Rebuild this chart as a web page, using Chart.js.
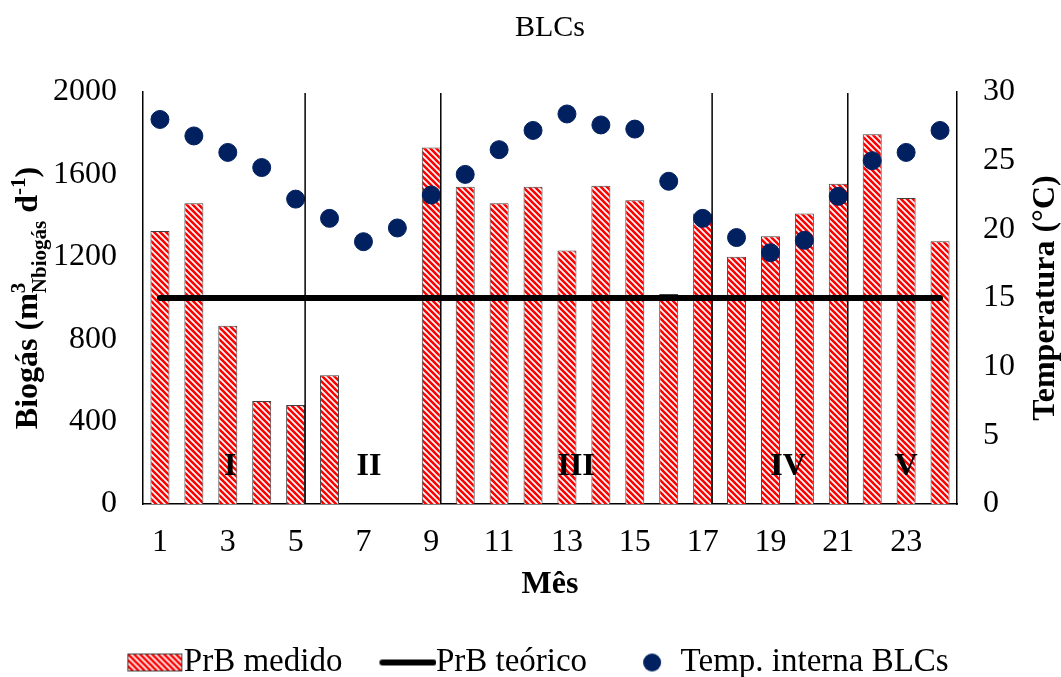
<!DOCTYPE html>
<html>
<head>
<meta charset="utf-8">
<script src="https://cdn.jsdelivr.net/npm/chart.js@4.4.1/dist/chart.umd.min.js"></script>
<style>
  body { margin: 0; background: #fff; }
  canvas { display: block; }
</style>
</head>
<body>
<canvas id="c" width="1061" height="677"></canvas>
<script>
const months = ["1", "2", "3", "4", "5", "6", "7", "8", "9", "10", "11", "12",
  "13", "14", "15", "16", "17", "18", "19", "20", "21", "22", "23", "24"];
const prbMedido = [1325, 1460, 865, 500, 480, 625, null, null, 1730, 1540, 1460, 1540,
  1230, 1545, 1475, 1020, 1410, 1200, 1300, 1410, 1555, 1795, 1485, 1275];
const prbTeorico = [1000, 1000, 1000, 1000, 1000, 1000, 1000, 1000, 1000, 1000, 1000, 1000,
  1000, 1000, 1000, 1000, 1000, 1000, 1000, 1000, 1000, 1000, 1000, 1000];
const tempInterna = [28.0, 26.8, 25.6, 24.5, 22.2, 20.8, 19.1, 20.1, 22.5, 24.0, 25.8, 27.2,
  28.4, 27.6, 27.3, 23.5, 20.8, 19.4, 18.3, 19.2, 22.4, 25.0, 25.6, 27.2];
const leftTicks = [0, 400, 800, 1200, 1600, 2000];
const rightTicks = [0, 5, 10, 15, 20, 25, 30];
// phases of operation and where they are labelled / separated (month numbers)
const phases = ["I", "II", "III", "IV", "V"];
const phaseAt = [3.07, 7.16, 13.27, 19.52, 23.0];
const dividersAfter = [5, 9, 17, 21];

const FONT = '"Liberation Serif", "Times New Roman", serif';
const RED = "#ff0000";
const NAVY = "#002060";

function hatchTile() {
  const c = document.createElement("canvas");
  c.width = 6; c.height = 6;
  const g = c.getContext("2d");
  g.fillStyle = "#fff";
  g.fillRect(0, 0, 6, 6);
  g.strokeStyle = RED;
  g.lineWidth = 2.6;
  g.beginPath();
  for (const o of [-6, 0, 6]) { g.moveTo(o - 1, -1); g.lineTo(o + 7, 7); }
  g.stroke();
  return c;
}
const tile = hatchTile();

// legend swatches: 88px wide, content sits in x 32..88 so it meets the text
function swatch(kind) {
  const c = document.createElement("canvas");
  c.width = 89; c.height = 22;
  const g = c.getContext("2d");
  if (kind === "bar") {
    g.fillStyle = g.createPattern(tile, "repeat");
    g.fillRect(32, 2.5, 55, 17);
    g.strokeStyle = "#404040"; g.lineWidth = 1;
    g.strokeRect(32.5, 2.5, 54, 17);
  } else if (kind === "line") {
    g.strokeStyle = "#000"; g.lineWidth = 6; g.lineCap = "round";
    g.beginPath(); g.moveTo(35, 11); g.lineTo(86, 11); g.stroke();
  } else {
    g.fillStyle = NAVY;
    g.beginPath(); g.arc(60, 11, 9, 0, Math.PI * 2); g.fill();
  }
  return c;
}

function drawRotated(ctx, runs, cx, cy) {
  ctx.save();
  ctx.translate(cx, cy);
  ctx.rotate(-Math.PI / 2);
  ctx.textBaseline = "alphabetic";
  ctx.textAlign = "left";
  ctx.fillStyle = "#000";
  let total = 0;
  for (const r of runs) {
    ctx.font = "bold " + r.size + "px " + FONT;
    r.w = ctx.measureText(r.text).width;
    if (!r.stack) total += r.w;
  }
  let x = -total / 2;
  for (const r of runs) {
    ctx.font = "bold " + r.size + "px " + FONT;
    ctx.fillText(r.text, x, r.dy || 0);
    if (!r.stack) x += r.w;
  }
  ctx.restore();
}

const extras = {
  id: "extras",
  afterDatasetsDraw(chart) {
    const { ctx, chartArea, scales } = chart;
    const bars = chart.getDatasetMeta(0).data;
    ctx.save();
    ctx.strokeStyle = "#000";
    ctx.lineWidth = 1.5;
    dividersAfter.forEach((m) => {
      const i = m - 1;
      const x = scales.x.getPixelForValue(i) + bars[i].width / 2;
      ctx.beginPath();
      ctx.moveTo(x, chartArea.top + 1);
      ctx.lineTo(x, chartArea.bottom);
      ctx.stroke();
    });
    ctx.fillStyle = "#000";
    ctx.font = "bold 32px " + FONT;
    ctx.textAlign = "center";
    ctx.textBaseline = "middle";
    phases.forEach((p, k) => {
      ctx.fillText(p, scales.x.getPixelForValue(phaseAt[k] - 1), scales.y.getPixelForValue(180));
    });
    ctx.restore();
  },
  afterDraw(chart) {
    const { ctx, chartArea } = chart;
    const cy = (chartArea.top + chartArea.bottom) / 2;
    drawRotated(ctx, [
      { text: "Biogás (m", size: 32 },
      { text: "3", size: 21, dy: -12, stack: true },
      { text: "Nbiogás", size: 21, dy: 9 },
      { text: " d", size: 32 },
      { text: "-1", size: 21, dy: -12 },
      { text: ")", size: 32 }
    ], 37, cy);
    drawRotated(ctx, [{ text: "Temperatura (°C)", size: 32 }], 1054, cy);
  }
};

const canvas = document.getElementById("c");
const hatch = canvas.getContext("2d").createPattern(tile, "repeat");
const tickFont = { family: FONT, size: 32 };

new Chart(canvas, {
  type: "bar",
  data: {
    labels: months,
    datasets: [
      {
        label: "PrB medido",
        data: prbMedido,
        backgroundColor: hatch,
        borderColor: "#404040",
        borderWidth: 1,
        categoryPercentage: 1,
        barPercentage: 0.56,
        yAxisID: "y",
        order: 3
      },
      {
        type: "line",
        label: "PrB teórico",
        data: prbTeorico,
        borderColor: "#000",
        borderWidth: 6,
        pointRadius: 0,
        borderCapStyle: "round",
        yAxisID: "y",
        order: 2
      },
      {
        type: "line",
        label: "Temp. interna BLCs",
        data: tempInterna,
        showLine: false,
        pointRadius: 9,
        pointBackgroundColor: NAVY,
        pointBorderColor: NAVY,
        yAxisID: "y1",
        order: 1
      }
    ]
  },
  options: {
    responsive: false,
    animation: false,
    events: [],
    layout: { padding: { left: 0, right: 0, top: 0, bottom: -12 } },
    plugins: {
      title: {
        display: true,
        fullSize: false,
        text: "BLCs",
        color: "#000",
        font: { family: FONT, size: 30, weight: "normal" },
        padding: { top: 10, bottom: 46 }
      },
      legend: {
        position: "bottom",
        labels: {
          usePointStyle: true,
          pointStyleWidth: 55,
          padding: 22,
          color: "#000",
          font: { family: FONT, size: 33 },
          generateLabels: () => [
            { text: "PrB medido", pointStyle: swatch("bar"), datasetIndex: 0, lineWidth: 0, fillStyle: "transparent", strokeStyle: "transparent", fontColor: "#000", hidden: false },
            { text: "PrB teórico", pointStyle: swatch("line"), datasetIndex: 1, lineWidth: 0, fillStyle: "transparent", strokeStyle: "transparent", fontColor: "#000", hidden: false },
            { text: "Temp. interna BLCs", pointStyle: swatch("dot"), datasetIndex: 2, lineWidth: 0, fillStyle: "transparent", strokeStyle: "transparent", fontColor: "#000", hidden: false }
          ]
        }
      },
      tooltip: { enabled: false }
    },
    scales: {
      x: {
        grid: { display: false, drawTicks: false },
        border: { color: "#000", width: 1.5 },
        ticks: {
          autoSkip: false,
          maxRotation: 0,
          padding: 19,
          color: "#000",
          font: tickFont,
          callback: (v, i) => (i % 2 === 0 ? months[i] : "")
        },
        title: {
          display: true,
          text: "Mês",
          color: "#000",
          font: { family: FONT, size: 32, weight: "bold" },
          padding: { top: 0, bottom: 20 }
        },
        afterFit: (s) => { s.height = 120; }
      },
      y: {
        position: "left",
        min: 0,
        max: 2000,
        grid: { display: false, drawTicks: false },
        border: { color: "#000", width: 1.5 },
        ticks: { stepSize: 400, padding: 26, color: "#000", font: tickFont,
          callback: (v) => (leftTicks.includes(v) ? String(v) : "") },
        afterFit: (s) => { s.width = 143; }
      },
      y1: {
        position: "right",
        min: 0,
        max: 30,
        grid: { display: false, drawTicks: false },
        border: { color: "#000", width: 1.5 },
        ticks: { stepSize: 5, padding: 26, color: "#000", font: tickFont,
          callback: (v) => (rightTicks.includes(v) ? String(v) : "") },
        afterFit: (s) => { s.width = 104; }
      }
    }
  },
  plugins: [extras]
});
</script>
</body>
</html>
